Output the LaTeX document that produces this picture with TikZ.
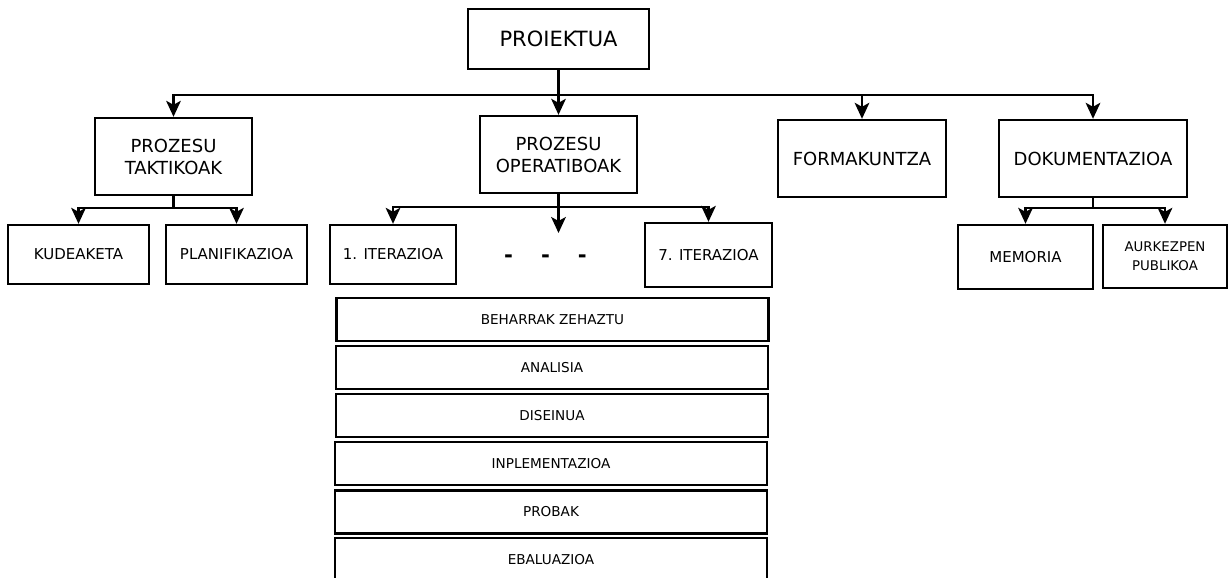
\documentclass[tikz,border=0pt]{standalone}
\usepackage{fontspec}
\setmainfont{DejaVu Sans}
\usetikzlibrary{arrows.meta}
\begin{document}
\begin{tikzpicture}[x=0.75pt,y=-0.75pt,
  bx/.style={draw, line width=1.8pt, inner sep=0pt, align=center, text=black},
  sz/.style 2 args={minimum width=#1*0.75pt, minimum height=#2*0.75pt},
  arr/.style={line width=1.6pt, -{Stealth[length=12pt,width=11pt,inset=3pt]}},
  ln/.style={line width=1.6pt},
  fbig/.style={font=\fontsize{15.75}{19}\selectfont},
  fmid/.style={font=\fontsize{13.5}{16.5}\selectfont},
  fsml/.style={font=\fontsize{11.25}{14}\selectfont},
  faur/.style={font=\fontsize{10}{14.25}\selectfont},
  fstk/.style={font=\fontsize{10.2}{12}\selectfont},
  stk/.style={bx, fstk, sz={432}{43}}
]
\useasboundingbox (0,0) rectangle (1231,578);
\clip (0,0) rectangle (1231,578);
\fill[white] (0,0) rectangle (1231,578);

\node[bx,fbig,sz={181}{60}] (proj) at (558.5,39) {PROIEKTUA};
\node[bx,fmid,sz={157}{77}] (tak) at (173.5,156.5) {PROZESU\\TAKTIKOAK};
\node[bx,fmid,sz={157}{77}] (ope) at (558.5,154.5) {PROZESU\\OPERATIBOAK};
\node[bx,fmid,sz={168}{77}] (form) at (862,158.5) {FORMAKUNTZA};
\node[bx,fmid,sz={188}{77}] (dok) at (1093,158.5) {DOKUMENTAZIOA};
\node[bx,fsml,sz={141}{59}] (kud) at (78.5,254.5) {KUDEAKETA};
\node[bx,fsml,sz={141}{59}] (plan) at (236.5,254.5) {PLANIFIKAZIOA};
\node[bx,fsml,sz={126}{59}] (it1) at (393,254.5) {1. ITERAZIOA};
\node[bx,fsml,sz={127}{64}] (it7) at (708.5,255) {7. ITERAZIOA};
\node[bx,fsml,sz={135}{64}] (mem) at (1025.5,257) {MEMORIA};
\node[bx,faur,sz={124}{63}] (aur) at (1165,256.5) {AURKEZPEN\\PUBLIKOA};

\node[font=\bfseries\fontsize{16}{18}\selectfont, inner sep=0pt] (dots) at (545.5,259) {-\hspace{21pt}-\hspace{21pt}-};

\node[stk] (beh) at (552.5,319.5) {BEHARRAK ZEHAZTU};
\node[stk] (ana) at (552,367.5) {ANALISIA};
\node[stk] (dis) at (552,415.5) {DISEINUA};
\node[stk] (inp) at (551,463.5) {INPLEMENTAZIOA};
\node[stk] (pro) at (551,512) {PROBAK};
\node[stk] (eba) at (551,559.5) {EBALUAZIOA};

% top level
\coordinate (bus) at (558.5,95);
\draw[arr] (proj) -- (ope);
\draw[arr] (bus) -| (tak);
\draw[arr] (bus) -| (form);
\draw[arr] (bus) -| (dok);

% tactical
\coordinate (tb) at (173.5,208);
\draw[ln] (tak.south) -- (tb);
\draw[arr] (tb) -| (kud);
\draw[arr] (tb) -| (plan);

% operative
\coordinate (ob) at (558.5,207);
\coordinate (mid) at (558.5,233);
\draw[arr] (ope) -- (mid);
\draw[arr] (ob) -| (it1);
\draw[arr] (ob) -| (it7);

% documentation
\coordinate (db) at (1093,208);
\draw[ln] (dok.south) -- (db);
\draw[arr] (db) -| (mem);
\draw[arr] (db) -| (aur);
\end{tikzpicture}
\end{document}
